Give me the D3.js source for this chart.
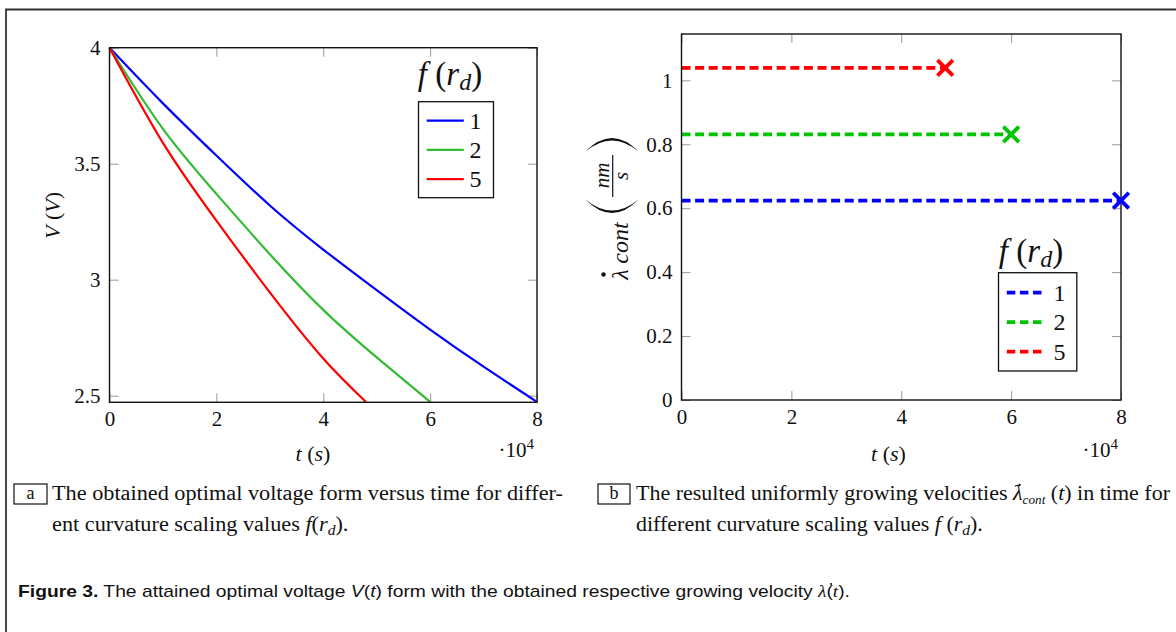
<!DOCTYPE html>
<html><head><meta charset="utf-8">
<script src="https://cdn.jsdelivr.net/npm/d3@7"></script>
<style>body{margin:0;background:#fff}svg{display:block}</style>
</head><body><svg id="c" width="1176" height="632"></svg>
<script>
// ---------- data ----------
const legendLabels = ["1", "2", "5"];
const tBlue  = [0, 1, 2, 3, 4, 5, 6, 7, 8];
const vBlue  = [4, 3.76, 3.535, 3.32, 3.13, 2.955, 2.785, 2.625, 2.473];
const tGreen = [0, 1, 2, 3, 4, 5, 6];
const vGreen = [4, 3.65, 3.37, 3.11, 2.87, 2.665, 2.473];
const tRed   = [0, 1, 2, 3, 4, 4.8];
const vRed   = [4, 3.59, 3.255, 2.945, 2.66, 2.473];
const velocity = [0.624, 0.831, 1.039];   // f=1,2,5
const tEnd     = [8, 6, 4.8];
const xTicks   = [0, 2, 4, 6, 8];
const vTicks   = [2.5, 3, 3.5, 4];
const velTicks = [0, 0.2, 0.4, 0.6, 0.8, 1];

const colA = ["#0000ff", "#33bb33", "#ff0000"];
const colB = ["#0000ff", "#00c400", "#ff0000"];
const SERIF = "'Liberation Serif','DejaVu Serif',serif";
const SANS = "'Liberation Sans',Arial,sans-serif";

const svg = d3.select("#c");

// outer frame
svg.append("path").attr("d", "M6,632 V9.5 H1176").attr("fill", "none")
  .attr("stroke", "#333").attr("stroke-width", 1.8);

function frameAxes(g, x, y, xt, yt, fmtY) {
  const [x0, x1] = x.range(), [y0, y1] = y.range();
  const st = (sel) => { sel.select(".domain").remove();
    sel.selectAll(".tick line").attr("stroke", "#999").attr("stroke-width", 1);
    sel.selectAll(".tick text").attr("font-family", SERIF).attr("font-size", 21).attr("fill", "#111"); };
  g.append("g").attr("transform", `translate(0,${y0})`)
    .call(d3.axisBottom(x).tickValues(xt).tickSize(-9).tickPadding(9).tickFormat(d => String(d))).call(st);
  g.append("g").attr("transform", `translate(0,${y1})`)
    .call(d3.axisTop(x).tickValues(xt).tickSize(-9).tickFormat("")).call(st);
  g.append("g").attr("transform", `translate(${x0},0)`)
    .call(d3.axisLeft(y).tickValues(yt).tickSize(-9).tickPadding(9).tickFormat(fmtY)).call(st);
  g.append("g").attr("transform", `translate(${x1},0)`)
    .call(d3.axisRight(y).tickValues(yt).tickSize(-9).tickFormat("")).call(st);
}

function frdTitle(g, cx, by) {
  const t = g.append("text").attr("x", cx).attr("y", by).attr("text-anchor", "middle")
    .attr("font-family", SERIF).attr("font-size", 33).attr("fill", "#111");
  t.append("tspan").attr("font-style", "italic").text("f");
  t.append("tspan").text(" (");
  t.append("tspan").attr("font-style", "italic").text("r");
  t.append("tspan").attr("font-style", "italic").attr("font-size", 24).attr("dy", 5).text("d");
  t.append("tspan").attr("dy", -5).text(")");
}

function tsLabel(g, cx, by, ex) {
  const t = g.append("text").attr("x", cx).attr("y", by).attr("text-anchor", "middle")
    .attr("font-family", SERIF).attr("font-size", 22).attr("fill", "#111");
  t.append("tspan").attr("font-style", "italic").text("t");
  t.append("tspan").text(" (");
  t.append("tspan").attr("font-style", "italic").text("s");
  t.append("tspan").text(")");
  const e = g.append("text").attr("x", ex).attr("y", by - 4).attr("text-anchor", "end")
    .attr("font-family", SERIF).attr("font-size", 21).attr("fill", "#111");
  e.append("tspan").text("·10");
  e.append("tspan").attr("font-size", 15).attr("dy", -8).text("4");
}

// ---------- chart a ----------
const gA = svg.append("g");
const xA = d3.scaleLinear().domain([0, 8]).range([109.5, 537]);
const yA = d3.scaleLinear().domain([2.4715, 4]).range([402.3, 47.7]);
frameAxes(gA, xA, yA, xTicks, vTicks, d => String(d));

const seriesA = [
  { t: tBlue, v: vBlue }, { t: tGreen, v: vGreen }, { t: tRed, v: vRed }
];
const lineA = d3.line().x(d => xA(d[0])).y(d => yA(d[1])).curve(d3.curveNatural);
seriesA.forEach((s, i) => {
  gA.append("path").datum(s.t.map((t, k) => [t, s.v[k]]))
    .attr("d", lineA).attr("fill", "none").attr("stroke", colA[i]).attr("stroke-width", 2.2);
});
gA.append("rect").attr("x", 109.5).attr("y", 47.7).attr("width", 537 - 109.5).attr("height", 402.3 - 47.7)
  .attr("fill", "none").attr("stroke", "#111").attr("stroke-width", 1.4);

// legend a
frdTitle(gA, 450, 85);
gA.append("rect").attr("x", 418.5).attr("y", 101.7).attr("width", 75).attr("height", 96)
  .attr("fill", "#fff").attr("stroke", "#111").attr("stroke-width", 1.3);
legendLabels.forEach((l, i) => {
  const yy = 120.7 + i * 29.2;
  gA.append("line").attr("x1", 426.7).attr("x2", 463.8).attr("y1", yy).attr("y2", yy)
    .attr("stroke", colA[i]).attr("stroke-width", 2.2);
  gA.append("text").attr("x", 475.5).attr("y", yy + 8).attr("text-anchor", "middle")
    .attr("font-family", SERIF).attr("font-size", 24).attr("fill", "#111").text(l);
});
// axis labels a
tsLabel(gA, 313, 461, 534);
{
  const t = gA.append("text").attr("transform", "translate(60,215.5) rotate(-90)")
    .attr("text-anchor", "middle").attr("font-family", SERIF).attr("font-size", 22).attr("fill", "#111");
  t.append("tspan").attr("font-style", "italic").text("V");
  t.append("tspan").text(" (");
  t.append("tspan").attr("font-style", "italic").text("V");
  t.append("tspan").text(")");
}

// ---------- chart b ----------
const gB = svg.append("g");
const xB = d3.scaleLinear().domain([0, 8]).range([681.5, 1121]);
const yB = d3.scaleLinear().domain([0, 1.145]).range([400, 34]);
frameAxes(gB, xB, yB, xTicks, velTicks, d => String(d));

velocity.forEach((v, i) => {
  gB.append("path").datum([[0, v], [tEnd[i], v]])
    .attr("d", d3.line().x(d => xB(d[0])).y(d => yB(d[1])))
    .attr("fill", "none").attr("stroke", colB[i]).attr("stroke-width", 3.8)
    .attr("stroke-dasharray", "9 4.6");
});
gB.append("rect").attr("x", 681.5).attr("y", 34).attr("width", 1121 - 681.5).attr("height", 366)
  .attr("fill", "none").attr("stroke", "#111").attr("stroke-width", 1.4);
velocity.forEach((v, i) => {
  gB.append("path").datum([tEnd[i], v])
    .attr("d", d3.symbol(d3.symbolX, 160)())
    .attr("transform", d => `translate(${xB(d[0])},${yB(d[1])})`)
    .attr("fill", "none").attr("stroke", colB[i]).attr("stroke-width", 3.8);
});

// legend b
frdTitle(gB, 1031, 262);
gB.append("rect").attr("x", 998.5).attr("y", 272.7).attr("width", 78.3).attr("height", 98.3)
  .attr("fill", "#fff").attr("stroke", "#111").attr("stroke-width", 1.3);
legendLabels.forEach((l, i) => {
  const yy = 292.7 + i * 29.5;
  gB.append("line").attr("x1", 1006.8).attr("x2", 1041.8).attr("y1", yy).attr("y2", yy)
    .attr("stroke", colB[i]).attr("stroke-width", 3.8).attr("stroke-dasharray", "8.5 4.6");
  gB.append("text").attr("x", 1059.5).attr("y", yy + 8).attr("text-anchor", "middle")
    .attr("font-family", SERIF).attr("font-size", 24).attr("fill", "#111").text(l);
});
tsLabel(gB, 888.5, 461, 1118);

// y label b : dot-lambda cont (nm / s)
{
  const g = gB.append("g").attr("fill", "#111");
  const rot = (x, y) => `translate(${x},${y}) rotate(-90)`;
  g.append("circle").attr("cx", 603.5).attr("cy", 274.5).attr("r", 2.2);
  g.append("text").attr("transform", rot(628, 274.5)).attr("text-anchor", "middle")
    .attr("font-family", SERIF).attr("font-size", 24).attr("font-style", "italic").text("λ");
  g.append("text").attr("transform", rot(628, 243)).attr("text-anchor", "middle")
    .attr("font-family", SERIF).attr("font-size", 24).attr("font-style", "italic").text("cont");
  g.append("path").attr("d", "M585,199 Q612,227 639,199 Q612,222 585,199 Z");
  g.append("path").attr("d", "M585,152 Q612,124 639,152 Q612,129 585,152 Z");
  g.append("line").attr("x1", 612.7).attr("x2", 612.7).attr("y1", 155).attr("y2", 197)
    .attr("stroke", "#111").attr("stroke-width", 1.2);
  g.append("text").attr("transform", rot(609, 175.5)).attr("text-anchor", "middle")
    .attr("font-family", SERIF).attr("font-size", 21).attr("font-style", "italic").text("nm");
  g.append("text").attr("transform", rot(627.5, 176)).attr("text-anchor", "middle")
    .attr("font-family", SERIF).attr("font-size", 21).attr("font-style", "italic").text("s");
}

// ---------- captions ----------
const CAP_FS = 20;
function boxLabel(x, y, w, h, ch) {
  svg.append("rect").attr("x", x).attr("y", y).attr("width", w).attr("height", h)
    .attr("fill", "none").attr("stroke", "#111").attr("stroke-width", 1.2);
  svg.append("text").attr("x", x + w / 2).attr("y", y + h - 5).attr("text-anchor", "middle")
    .attr("font-family", SERIF).attr("font-size", 18).attr("fill", "#111").text(ch);
}
function capLine(x, y, parts) {
  const t = svg.append("text").attr("x", x).attr("y", y).attr("font-family", SERIF)
    .attr("font-size", CAP_FS).attr("fill", "#111");
  parts.forEach(p => {
    const s = t.append("tspan").text(p.s);
    if (p.i) s.attr("font-style", "italic");
    if (p.fs) s.attr("font-size", p.fs);
    if (p.dy) s.attr("dy", p.dy);
  });
  return t;
}
boxLabel(14, 484, 33, 20, "a");
const a1 = capLine(52, 500, [{ s: "The obtained optimal voltage form versus time for differ-" }]);
const a2 = capLine(52, 531, [{ s: "ent curvature scaling values " }, { s: "f", i: 1 }, { s: "(" },
  { s: "r", i: 1 }, { s: "d", i: 1, fs: 14, dy: 4 }, { s: ").", dy: -4 }]);
boxLabel(598, 484, 32, 20, "b");
const b1 = capLine(636, 500, [{ s: "The resulted uniformly growing velocities " }, { s: "λ", i: 1 },
  { s: "cont", i: 1, fs: 12, dy: 4 }, { s: " (", dy: -4 }, { s: "t", i: 1 }, { s: ") in time for" }]);
const b2 = capLine(636, 531, [{ s: "different curvature scaling values " }, { s: "f", i: 1 }, { s: " (" },
  { s: "r", i: 1 }, { s: "d", i: 1, fs: 14, dy: 4 }, { s: ").", dy: -4 }]);
// horizontal scale so that the justified first line fits its column; same scale for the rest
{
  const k = 511 / a1.node().getComputedTextLength();
  [a1, a2].forEach(t => t.attr("transform", `translate(52,0) scale(${k},1) translate(-52,0)`));
  const kb = 534 / b1.node().getComputedTextLength();
  const kk = Math.min(k, kb);
  b2.attr("transform", `translate(636,0) scale(${kk},1) translate(-636,0)`);
  b1.attr("transform", `translate(636,0) scale(${kk},1) translate(-636,0)`)
    .attr("textLength", 534 / kk).attr("lengthAdjust", "spacing");
}
// dot over lambda in caption b
{
  const node = b1.node();
  const idx = "The resulted uniformly growing velocities ".length;
  const ext = node.getExtentOfChar(idx);
  const m = node.getCTM();
  const cx = m.a * (ext.x + ext.width / 2 + 1.5) + m.e;
  svg.append("circle").attr("cx", cx).attr("cy", ext.y + 3).attr("r", 1.2).attr("fill", "#111");
}
// figure caption
{
  const t = svg.append("text").attr("x", 18).attr("y", 597).attr("font-family", SANS)
    .attr("font-size", 17).attr("fill", "#111");
  t.append("tspan").attr("font-weight", "bold").text("Figure 3.");
  t.append("tspan").text("  The attained optimal voltage ");
  t.append("tspan").attr("font-style", "italic").text("V");
  t.append("tspan").text("(");
  t.append("tspan").attr("font-style", "italic").text("t");
  t.append("tspan").text(") form with the obtained respective growing velocity ");
  t.append("tspan").attr("font-family", SERIF).attr("font-style", "italic").text("λ");
  t.append("tspan").text("(");
  t.append("tspan").attr("font-family", SERIF).attr("font-style", "italic").text("t");
  t.append("tspan").text(").");
  t.attr("textLength", 832).attr("lengthAdjust", "spacingAndGlyphs");
  const node = t.node();
  const full = node.textContent;
  const li = full.indexOf("λ");
  const ext = node.getExtentOfChar(li);
  svg.append("circle").attr("cx", ext.x + ext.width / 2 + 1.5).attr("cy", ext.y + 2).attr("r", 1.1).attr("fill", "#111");
}
</script></body></html>
